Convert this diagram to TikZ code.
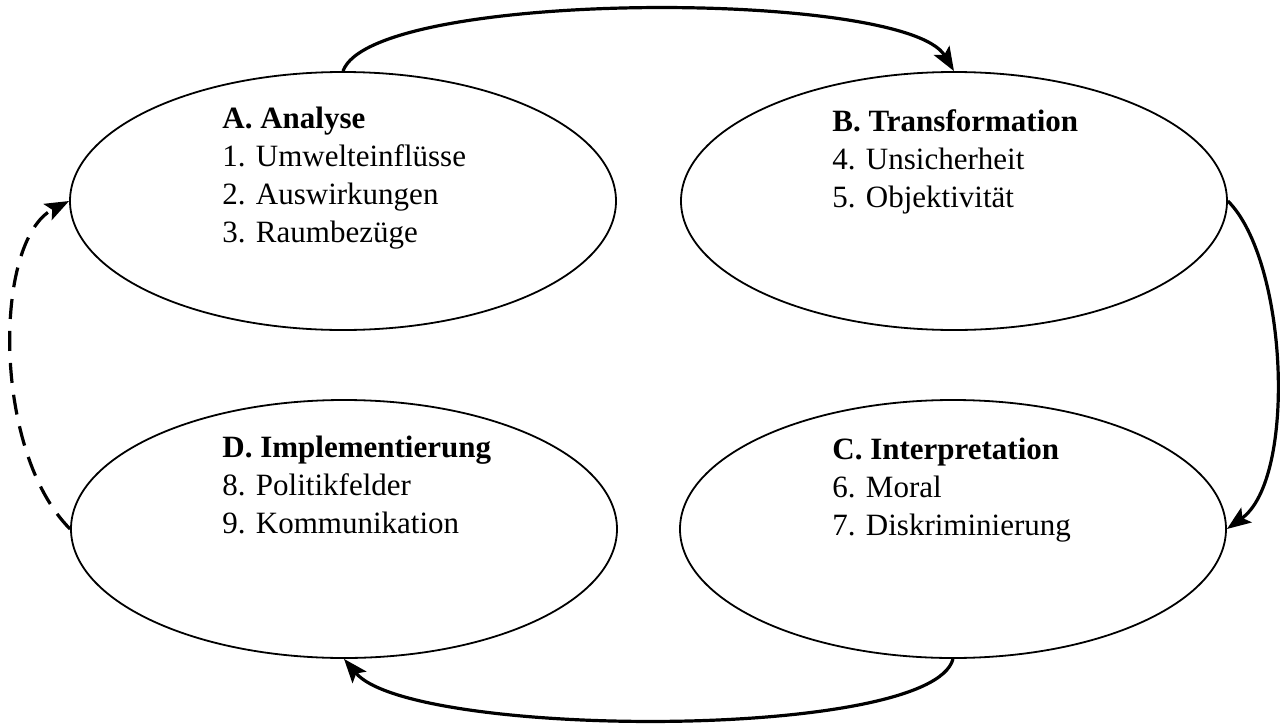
\documentclass[tikz,border=0pt]{standalone}
\usepackage{fontspec}
\setmainfont{Liberation Serif}
\usetikzlibrary{shapes.geometric,arrows.meta}
\begin{document}
\begin{tikzpicture}[x=0.5pt,y=-0.5pt,
  bub/.style={ellipse, draw, line width=0.9pt, minimum width=273pt, minimum height=129pt, inner sep=0pt},
  flow/.style={line width=1.6pt, -{Stealth[length=12pt,width=9pt,inset=2.5pt]}},
  txt/.style={anchor=north west, align=left, inner sep=0pt, font=\fontsize{15.5}{19}\selectfont},
]
\useasboundingbox (0,0) rectangle (1287,724);
\node[bub] (A) at (343,201) {};
\node[bub] (B) at (954,201) {};
\node[bub] (C) at (953,529) {};
\node[bub] (D) at (344,529) {};
\node[txt] (ta) at (222,107) {\textbf{A. Analyse}\\1. Umwelteinflüsse\\2. Auswirkungen\\3. Raumbezüge};
\node[txt] (tb) at (832,109) {\textbf{B. Transformation}\\4. Unsicherheit\\5. Objektivität};
\node[txt] (tc) at (832,438) {\textbf{C. Interpretation}\\6. Moral\\7. Diskriminierung};
\node[txt] (td) at (222,436) {\textbf{D. Implementierung}\\8. Politikfelder\\9. Kommunikation};
\draw[flow] (A.north) .. controls +(29,-82) and +(-49,-82) .. (B.north);
\draw[flow] (B.east) .. controls +(60,60) and +(70,-50) .. (C.east);
\draw[flow] (C.south) .. controls +(-21,82) and +(67,80) .. (D.south);
\draw[flow, dash pattern=on 10pt off 6pt] (D.west) .. controls +(-78,-78) and +(-76,39) .. (A.west);
\end{tikzpicture}
\end{document}
